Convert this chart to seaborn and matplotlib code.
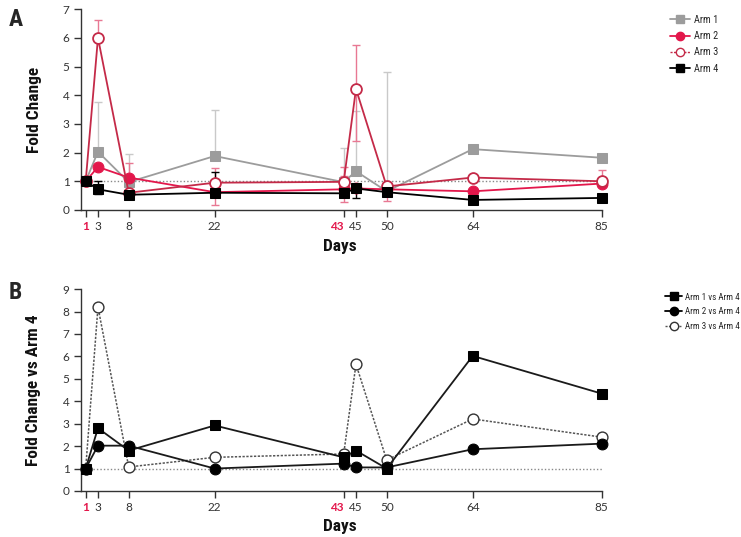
import numpy as np
import pandas as pd
import matplotlib
matplotlib.use("Agg")
import matplotlib.pyplot as plt
from matplotlib.lines import Line2D
from matplotlib import font_manager
import seaborn as sns

# ---------------- data ----------------
days = [1, 3, 8, 22, 43, 45, 50, 64, 85]
highlight_days = [1, 43]

arm1 = [1.0, 2.03, 0.97, 1.88, 0.97, 1.35, 0.65, 2.12, 1.82]
arm2 = [1.0, 1.50, 1.13, 0.62, 0.72, 0.75, 0.72, 0.65, 0.92]
arm3 = [1.0, 6.00, 0.60, 0.95, 0.98, 4.22, 0.82, 1.13, 1.00]
arm4 = [1.0, 0.72, 0.53, 0.60, 0.58, 0.75, 0.62, 0.35, 0.42]

nan = np.nan
arm1_hi = [nan, 3.77, 1.95, 3.50, 2.15, 3.45, 4.82, nan, nan]
arm1_lo = [nan, nan, nan, nan, nan, nan, nan, nan, nan]
arm2_hi = [nan, nan, 1.65, nan, 1.20, nan, nan, nan, 1.05]
arm2_lo = [nan, nan, nan, nan, nan, nan, 0.30, 0.25, nan]
arm3_hi = [nan, 6.62, nan, 1.47, 1.50, 5.75, nan, nan, 1.39]
arm3_lo = [nan, nan, nan, 0.17, 0.28, 2.42, nan, nan, nan]
arm4_hi = [nan, 1.00, nan, 1.33, nan, nan, nan, nan, nan]
arm4_lo = [nan, 0.55, nan, nan, nan, 0.42, nan, 0.25, nan]

vs1 = [1.0, 2.80, 1.80, 2.92, 1.50, 1.80, 1.00, 6.02, 4.34]
vs2 = [1.0, 2.02, 2.02, 1.00, 1.22, 1.05, 1.05, 1.86, 2.11]
vs3 = [1.0, 8.20, 1.07, 1.50, 1.65, 5.65, 1.38, 3.21, 2.40]

labels_a = ["Arm 1", "Arm 2", "Arm 3", "Arm 4"]
labels_b = ["Arm 1 vs Arm 4", "Arm 2 vs Arm 4", "Arm 3 vs Arm 4"]

# ---------------- style ----------------
sns.set_theme(style="white")
plt.rcParams["font.family"] = ["Lato", "DejaVu Sans"]
plt.rcParams["axes.linewidth"] = 1.0


def find_condensed():
    """Look for a narrow/condensed installed font; return text kwargs."""
    preferred = ["Roboto Condensed", "Open Sans Condensed", "Liberation Sans Narrow",
                 "Noto Sans Condensed", "DejaVu Sans Condensed", "Arial Narrow"]
    names = {f.name for f in font_manager.fontManager.ttflist}
    for p in preferred:
        if p in names:
            return {"family": [p, "DejaVu Sans"]}
    for f in font_manager.fontManager.ttflist:
        st = str(f.stretch).lower()
        if "condensed" in st and "extra" not in st and "ultra" not in st:
            return {"family": [f.name, "DejaVu Sans"], "fontstretch": f.stretch}
    return None


COND = find_condensed()
if COND is None:
    COND = {"family": ["DejaVu Sans"]}
    size_scale = 0.80
else:
    size_scale = 1.0

GREY = "#9c9c9c"
GREY_ERR = "#c9c9c9"
RED2 = "#e3174b"
RED3 = "#c42a48"
RED_ERR = "#e87893"
BLACK = "#000000"
AXCOL = "#333333"

fig = plt.figure(figsize=(7.41, 5.37), dpi=100)
axA = fig.add_axes([0.109, 0.609, 0.703, 0.374])
axB = fig.add_axes([0.109, 0.0857, 0.703, 0.376])

dfA = pd.DataFrame({"day": days, "Arm 1": arm1, "Arm 2": arm2, "Arm 3": arm3, "Arm 4": arm4})
dfB = pd.DataFrame({"day": days, "v1": vs1, "v2": vs2, "v3": vs3})


def errbars(ax, y, hi, lo, color, z):
    y = np.asarray(y, float)
    hi = np.asarray(hi, float)
    lo = np.asarray(lo, float)
    up = np.where(np.isnan(hi), 0, hi - y)
    dn = np.where(np.isnan(lo), 0, y - lo)
    mask = ~(np.isnan(hi) & np.isnan(lo))
    x = np.asarray(days, float)[mask]
    ax.errorbar(x, y[mask], yerr=[dn[mask], up[mask]], fmt="none", ecolor=color,
                elinewidth=1.0, capsize=3, capthick=1.0, zorder=z, clip_on=False)


# reference line
for ax in (axA, axB):
    ax.plot([1, 85], [1, 1], color="#888888", lw=1.0, ls=(0, (1, 1.5)), zorder=1)

# Panel A
errbars(axA, arm1, arm1_hi, arm1_lo, GREY_ERR, 2)
errbars(axA, arm2, arm2_hi, arm2_lo, RED_ERR, 2)
errbars(axA, arm3, arm3_hi, arm3_lo, RED_ERR, 2)
errbars(axA, arm4, arm4_hi, arm4_lo, BLACK, 2)

ms = 7.8
sns.lineplot(data=dfA, x="day", y="Arm 1", ax=axA, color=GREY, lw=1.3, marker="s",
             markersize=ms, markeredgecolor=GREY, markerfacecolor=GREY, zorder=3, clip_on=False)
sns.lineplot(data=dfA, x="day", y="Arm 2", ax=axA, color=RED2, lw=1.3, marker="o",
             markersize=ms, markeredgecolor=RED2, markerfacecolor=RED2, zorder=4, clip_on=False)
sns.lineplot(data=dfA, x="day", y="Arm 3", ax=axA, color=RED3, lw=1.3, marker="o",
             markersize=ms, markeredgecolor=RED3, markerfacecolor="white", markeredgewidth=1.3,
             zorder=5, clip_on=False)
sns.lineplot(data=dfA, x="day", y="Arm 4", ax=axA, color=BLACK, lw=1.3, marker="s",
             markersize=ms, markeredgecolor=BLACK, markerfacecolor=BLACK, zorder=6, clip_on=False)

# Panel B
sns.lineplot(data=dfB, x="day", y="v1", ax=axB, color="#1a1a1a", lw=1.3, marker="s",
             markersize=ms, markeredgecolor=BLACK, markerfacecolor=BLACK, zorder=5, clip_on=False)
sns.lineplot(data=dfB, x="day", y="v2", ax=axB, color="#1a1a1a", lw=1.3, marker="o",
             markersize=ms, markeredgecolor=BLACK, markerfacecolor=BLACK, zorder=4, clip_on=False)
sns.lineplot(data=dfB, x="day", y="v3", ax=axB, color="#555555", lw=1.1, ls=(0, (1.5, 1)),
             marker="o", markersize=ms, markeredgecolor="#333333", markerfacecolor="white",
             markeredgewidth=1.0, zorder=3, clip_on=False)


def style_axis(ax, ymax):
    ax.set_xlim(0.2, 85)
    ax.set_ylim(0, ymax)
    ax.set_yticks(range(0, ymax + 1))
    ax.set_xticks(days)
    ax.set_xticklabels([str(d) for d in days])
    for s in ("top", "right"):
        ax.spines[s].set_visible(False)
    for s in ("left", "bottom"):
        ax.spines[s].set_color(AXCOL)
        ax.spines[s].set_linewidth(1.0)
    ax.tick_params(axis="both", which="both", direction="out", length=5, width=1.0,
                   color=AXCOL, labelsize=8.5, labelcolor="#333333", pad=3,
                   bottom=True, left=True)
    for lab, d in zip(ax.get_xticklabels(), days):
        if d in highlight_days:
            lab.set_color(RED2)
            lab.set_fontweight("bold")
            if d == 43:
                lab.set_horizontalalignment("right")
                lab.set_x(d + 0.9)
    ax.set_xlabel("")
    ax.set_ylabel("")
    ax.grid(False)


style_axis(axA, 7)
style_axis(axB, 9)

lab_kw = dict(fontsize=12.5 * size_scale, fontweight="bold", color="#111111", **COND)
H = 537.0
W = 741.0
fig.text(340 / W, 1 - 246 / H, "Days", ha="center", va="center", **lab_kw)
fig.text(340 / W, 1 - 526 / H, "Days", ha="center", va="center", **lab_kw)
fig.text(34 / W, 1 - 110 / H, "Fold Change", ha="center", va="center", rotation=90, **lab_kw)
fig.text(34 / W, 1 - 390 / H, "Fold Change vs Arm 4", ha="center", va="center", rotation=90, **lab_kw)

fig.text(0.012, 0.963, "A", fontsize=17, fontweight="bold", va="center", **COND)
fig.text(0.012, 0.455, "B", fontsize=17, fontweight="bold", va="center", **COND)

# Legends
def leg_prop(size):
    p = {"size": size * size_scale, "family": COND["family"]}
    if "fontstretch" in COND:
        p["stretch"] = COND["fontstretch"]
    return p


hA = [
    Line2D([], [], color=GREY, lw=1.3, marker="s", ms=6, mfc=GREY, mec=GREY),
    Line2D([], [], color=RED2, lw=1.3, marker="o", ms=6, mfc=RED2, mec=RED2),
    Line2D([], [], color=RED3, lw=1.0, ls=(0, (1.5, 1)), marker="o", ms=6, mfc="white", mec=RED3),
    Line2D([], [], color=BLACK, lw=1.3, marker="s", ms=6, mfc=BLACK, mec=BLACK),
]
fig.legend(hA, labels_a, loc="upper left", bbox_to_anchor=(0.898, 0.98), frameon=False,
           prop=leg_prop(7.5), handlelength=2.0, handletextpad=0.35, labelspacing=0.6,
           borderaxespad=0)
hB = [
    Line2D([], [], color=BLACK, lw=1.3, marker="s", ms=6, mfc=BLACK, mec=BLACK),
    Line2D([], [], color=BLACK, lw=1.3, marker="o", ms=6, mfc=BLACK, mec=BLACK),
    Line2D([], [], color="#555555", lw=1.0, ls=(0, (1.5, 1)), marker="o", ms=6, mfc="white", mec="#333333"),
]
fig.legend(hB, labels_b, loc="upper left", bbox_to_anchor=(0.893, 0.462), frameon=False,
           prop=leg_prop(6.5), handlelength=1.9, handletextpad=0.25, labelspacing=0.65,
           borderaxespad=0)

fig.savefig("out.png", dpi=100)
